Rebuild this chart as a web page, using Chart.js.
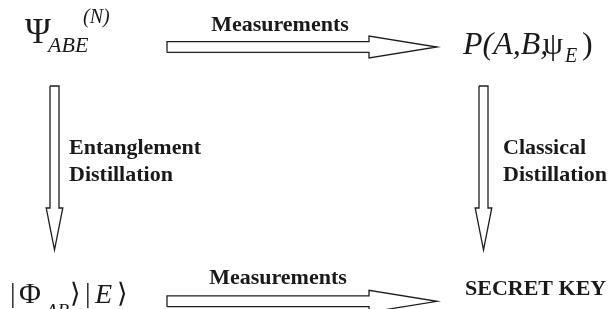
<!DOCTYPE html>
<html>
<head>
<meta charset="utf-8">
<script src="https://cdn.jsdelivr.net/npm/chart.js@4"></script>
<style>
  body { margin: 0; background: #fff; }
  #wrap { width: 615px; height: 309px; }
</style>
</head>
<body>
<div id="wrap"><canvas id="diagramChart"></canvas></div>
<script>
// Diagram nodes and arrows (diagram units == page pixels)
const arrowNames = ['measure_top', 'measure_bottom', 'entangle', 'classical'];
const arrowStartX = [167, 167, 54.5, 483.5];
const arrowStartY = [47, 301.3, 86, 86];
const arrowEndX = [437, 437, 54.5, 483.5];
const arrowEndY = [47, 301.3, 250, 250];

const edgeLabels = ['Measurements', 'Measurements', 'Entanglement\nDistillation', 'Classical\nDistillation'];
const cornerLabel = 'SECRET KEY';

// arrow outline sizes (shaft half width, head half width, head length)
const arrowShape = {
  horizontal: { shaft: 5.4, head: 11, headLen: 68 },
  vertical: { shaft: 4.5, head: 8.3, headLen: 42 }
};

function arrowOutline(i) {
  const x0 = arrowStartX[i], y0 = arrowStartY[i];
  const x1 = arrowEndX[i], y1 = arrowEndY[i];
  const len = Math.hypot(x1 - x0, y1 - y0);
  const dx = (x1 - x0) / len, dy = (y1 - y0) / len;
  const nx = -dy, ny = dx;
  const s = (y0 === y1) ? arrowShape.horizontal : arrowShape.vertical;
  const bx = x1 - dx * s.headLen, by = y1 - dy * s.headLen;
  const pts = [
    [x0 + nx * s.shaft, y0 + ny * s.shaft],
    [bx + nx * s.shaft, by + ny * s.shaft],
    [bx + nx * s.head, by + ny * s.head],
    [x1, y1],
    [bx - nx * s.head, by - ny * s.head],
    [bx - nx * s.shaft, by - ny * s.shaft],
    [x0 - nx * s.shaft, y0 - ny * s.shaft],
    [x0 + nx * s.shaft, y0 + ny * s.shaft]
  ];
  return pts.map(p => ({ x: p[0], y: p[1] }));
}

const datasets = arrowNames.map((name, i) => ({
  label: name,
  data: arrowOutline(i),
  showLine: true,
  borderColor: '#1e1e1e',
  borderWidth: 1.3,
  borderJoinStyle: 'miter',
  pointRadius: 0,
  tension: 0,
  fill: false
}));

const serif = '"Liberation Serif", "Times New Roman", "DejaVu Serif", serif';
const boldFont = 'bold 22px ' + serif;

// text runs placed in diagram units
const textRuns = [
  // Psi_ABE^(N)
  { t: '\u03A8', x: 25, y: 43, font: '35px ' + serif },
  { t: 'ABE', x: 48, y: 52, font: 'italic 22px ' + serif },
  { t: '(N)', x: 83, y: 23, font: 'italic 20px ' + serif },
  // P(A,B,psi_E)
  { t: 'P(A,B,', x: 463, y: 54, font: 'italic 32px ' + serif },
  { t: '\u03C8', x: 543, y: 54, font: '32px ' + serif },
  { t: 'E', x: 565, y: 62, font: 'italic 20px ' + serif },
  { t: ')', x: 582, y: 54, font: '32px ' + serif },
  // |Phi_AB>|E>
  { t: '|', x: 10, y: 302, font: '28px ' + serif },
  { t: '\u03A6', x: 19, y: 303, font: '30px ' + serif },
  { t: 'AB', x: 46, y: 317, font: 'italic 19px ' + serif },
  { t: '\u27E9', x: 70, y: 302, font: '27px "DejaVu Serif", serif' },
  { t: '|', x: 85, y: 302, font: '28px ' + serif },
  { t: 'E', x: 95, y: 303, font: 'italic 28px ' + serif },
  { t: '\u27E9', x: 117, y: 302, font: '27px "DejaVu Serif", serif' }
];

const labelPlaces = [
  { x: 280, y: 31, align: 'center' },
  { x: 278, y: 284, align: 'center' },
  { x: 69, y: 154, align: 'left' },
  { x: 503, y: 154, align: 'left' }
];

const textPlugin = {
  id: 'diagramText',
  afterDatasetsDraw(chart) {
    const ctx = chart.ctx;
    const sx = chart.scales.x, sy = chart.scales.y;
    ctx.save();
    ctx.fillStyle = '#1a1a1a';
    ctx.textBaseline = 'alphabetic';

    textRuns.forEach(r => {
      ctx.font = r.font;
      ctx.textAlign = 'left';
      ctx.fillText(r.t, sx.getPixelForValue(r.x), sy.getPixelForValue(r.y));
    });

    ctx.font = boldFont;
    edgeLabels.forEach((lbl, i) => {
      const p = labelPlaces[i];
      ctx.textAlign = p.align;
      lbl.split('\n').forEach((line, k) => {
        ctx.fillText(line, sx.getPixelForValue(p.x), sy.getPixelForValue(p.y + k * 27));
      });
    });

    ctx.textAlign = 'left';
    ctx.fillText(cornerLabel, sx.getPixelForValue(465), sy.getPixelForValue(295));
    ctx.restore();
  }
};

new Chart(document.getElementById('diagramChart').getContext('2d'), {
  type: 'scatter',
  data: { datasets: datasets },
  options: {
    responsive: true,
    maintainAspectRatio: false,
    animation: false,
    layout: { padding: 0 },
    plugins: {
      legend: { display: false },
      tooltip: { enabled: false },
      title: { display: false }
    },
    scales: {
      x: { type: 'linear', min: 0, max: 615, display: false },
      y: { type: 'linear', min: 0, max: 309, reverse: true, display: false }
    }
  },
  plugins: [textPlugin]
});
</script>
</body>
</html>
